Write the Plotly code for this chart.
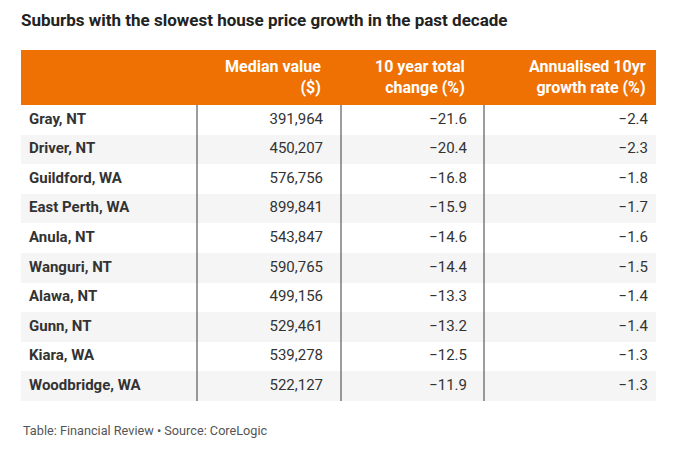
import plotly.graph_objects as go

suburbs = ["Gray, NT", "Driver, NT", "Guildford, WA", "East Perth, WA", "Anula, NT",
           "Wanguri, NT", "Alawa, NT", "Gunn, NT", "Kiara, WA", "Woodbridge, WA"]
median_value = [391964, 450207, 576756, 899841, 543847, 590765, 499156, 529461, 539278, 522127]
ten_year_change = [-21.6, -20.4, -16.8, -15.9, -14.6, -14.4, -13.3, -13.2, -12.5, -11.9]
annualised = [-2.4, -2.3, -1.8, -1.7, -1.6, -1.5, -1.4, -1.4, -1.3, -1.3]
header_line1 = ["Median value", "10 year total", "Annualised 10yr"]
header_line2 = ["($)", "change (%)", "growth rate (%)"]

W, H = 679, 451
OFF = 8  # page body margin offset in the screenshot

def fy(y_ref):
    """reference pixel y -> paper fraction"""
    return 1 - (y_ref - OFF) / H

def fmt_num(v):
    return f"{v:,}"

def fmt_pct(v):
    return f"{v:.1f}".replace("-", "\u2212")

n = len(suburbs)
row_fill = ["#ffffff" if i % 2 == 0 else "#f5f5f5" for i in range(n)]

# layout geometry, in reference pixels
tbl_left, tbl_right = 21, 656
head_top, head_bot = 50, 105
rows_bot = 401
text_left = 29
col_right = [323, 467, 648]
dividers = [197, 341, 484]

TXT = "#333333"
FONT = "Roboto"

fig = go.Figure()

# alternating row backgrounds
fig.add_trace(go.Bar(
    y=suburbs, x=[tbl_right - tbl_left] * n, base=tbl_left, orientation="h",
    width=1.0, marker=dict(color=row_fill, line=dict(width=0)),
    hoverinfo="skip", showlegend=False,
))

# first column: suburb names
fig.add_trace(go.Scatter(
    y=suburbs, x=[text_left] * n, mode="text",
    text=[f"<b>{s}</b>" for s in suburbs], textposition="middle right",
    textfont=dict(family=FONT, size=15, color=TXT),
    hoverinfo="skip", showlegend=False,
))

for xr, vals in zip(col_right, [[fmt_num(v) for v in median_value],
                                [fmt_pct(v) for v in ten_year_change],
                                [fmt_pct(v) for v in annualised]]):
    fig.add_trace(go.Scatter(
        y=suburbs, x=[xr] * n, mode="text", text=vals, textposition="middle left",
        textfont=dict(family=FONT, size=15, color=TXT),
        hoverinfo="skip", showlegend=False,
    ))

shapes = [dict(type="rect", xref="x", yref="paper", x0=tbl_left, x1=tbl_right,
               y0=fy(head_bot), y1=fy(head_top), fillcolor="#ef7103",
               line=dict(width=0), layer="below")]
for xd in dividers:
    shapes.append(dict(type="line", xref="x", yref="paper", x0=xd, x1=xd,
                       y0=fy(rows_bot), y1=fy(head_bot),
                       line=dict(color="#3a3a3a", width=1), layer="above"))

annotations = []
for xr, l1, l2 in zip(col_right, header_line1, header_line2):
    annotations.append(dict(
        text=f"<b>{l1}</b><br><b>{l2}</b>", xref="x", yref="paper",
        x=xr, y=fy((head_top + head_bot) / 2), xanchor="right", yanchor="middle",
        align="right", showarrow=False,
        font=dict(family=FONT, size=16, color="#ffffff"),
    ))
annotations.append(dict(
    text="Table: Financial Review \u2022 Source: CoreLogic",
    xref="x", yref="paper", x=tbl_left, y=fy(430), xanchor="left", yanchor="middle",
    showarrow=False, font=dict(family=FONT, size=12.7, color="#555555"),
))

fig.update_layout(
    width=W, height=H,
    margin=dict(l=0, r=0, t=0, b=0),
    paper_bgcolor="#ffffff",
    plot_bgcolor="#ffffff",
    shapes=shapes,
    annotations=annotations,
    bargap=0,
    xaxis=dict(range=[OFF, W + OFF], domain=[0, 1], visible=False, fixedrange=True),
    yaxis=dict(type="category", categoryorder="array", categoryarray=suburbs,
               range=[n - 0.5, -0.5], domain=[fy(rows_bot), fy(head_bot)],
               visible=False, fixedrange=True),
    title=dict(text="<b>Suburbs with the slowest house price growth in the past decade</b>",
               x=(tbl_left - OFF) / W, xanchor="left", y=fy(20), yanchor="middle",
               font=dict(family=FONT, size=17, color="#222222")),
    showlegend=False,
)

fig.write_html("out.html")
